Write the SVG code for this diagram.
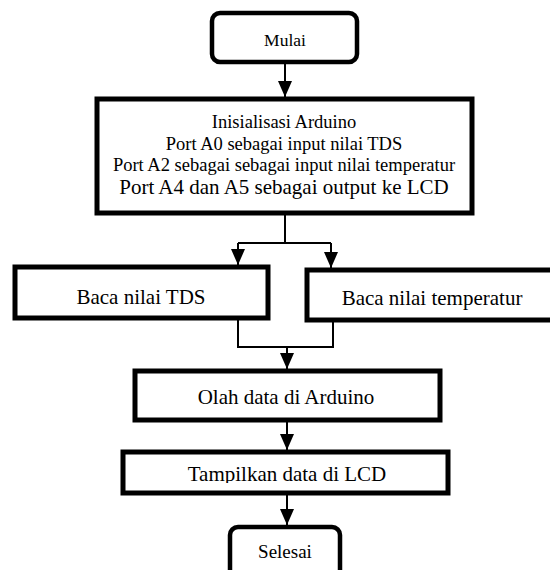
<svg xmlns="http://www.w3.org/2000/svg" width="550" height="570" viewBox="0 0 550 570">
<defs>
<marker id="ah" markerUnits="userSpaceOnUse" markerWidth="16" markerHeight="14" viewBox="0 0 16 14" refX="16" refY="7" orient="auto">
<path d="M0,0 L16,7 L0,14 Z" fill="#000"/>
</marker>
<clipPath id="clipT"><rect x="100" y="455" width="360" height="28"/></clipPath>
</defs>
<style>
.box{fill:#fff;stroke:#000;stroke-width:5}
.term{fill:#fff;stroke:#000;stroke-width:4.5}
.t{font-family:"Liberation Serif","Times New Roman",serif;fill:#000;text-anchor:middle}
.c{fill:none;stroke:#000;stroke-width:2}
</style>
<rect width="550" height="570" fill="#fff"/>
<g id="connectors">
<path class="c" d="M285,62 V97" marker-end="url(#ah)"/>
<path class="c" d="M285,213 V243"/>
<path class="c" d="M238,243 H331"/>
<path class="c" d="M238,243 V265" marker-end="url(#ah)"/>
<path class="c" d="M331,243 V268" marker-end="url(#ah)"/>
<path class="c" d="M238,318 V347 H333 V320"/>
<path class="c" d="M287,347 V369" marker-end="url(#ah)"/>
<path class="c" d="M287,420 V450" marker-end="url(#ah)"/>
<path class="c" d="M287,493 V525" marker-end="url(#ah)"/>
</g>
<g id="mulai">
<rect class="term" x="212" y="13" width="145" height="49" rx="8"/>
<text class="t" x="285" y="46" font-size="17.5" font-family="Liberation Serif, serif">Mulai</text>
</g>
<g id="init">
<rect class="box" x="97" y="99" width="375" height="114"/>
<text class="t" x="284" y="128" font-size="18.5">Inisialisasi Arduino</text>
<text class="t" x="284" y="149.5" font-size="18.5">Port A0 sebagai input nilai TDS</text>
<text class="t" x="284" y="171" font-size="18.5">Port A2 sebagai sebagai input nilai temperatur</text>
<text class="t" x="284" y="194" font-size="21">Port A4 dan A5 sebagai output ke LCD</text>
</g>
<g id="baca-tds">
<rect class="box" x="15" y="267" width="253" height="51"/>
<text class="t" x="141" y="304" font-size="21">Baca nilai TDS</text>
</g>
<g id="baca-temp">
<rect class="box" x="307" y="270" width="250" height="50"/>
<text class="t" x="432" y="305" font-size="21">Baca nilai temperatur</text>
</g>
<g id="olah">
<rect class="box" x="135" y="371" width="305" height="49"/>
<text class="t" x="286" y="404" font-size="21">Olah data di Arduino</text>
</g>
<g id="tampil">
<rect class="box" x="123" y="452" width="325" height="41"/>
<text class="t" x="287" y="481" font-size="21" clip-path="url(#clipT)">Tampilkan data di LCD</text>
</g>
<g id="selesai">
<rect class="term" x="230" y="527" width="110" height="60" rx="8"/>
<text class="t" x="285" y="558" font-size="19">Selesai</text>
</g>
</svg>
